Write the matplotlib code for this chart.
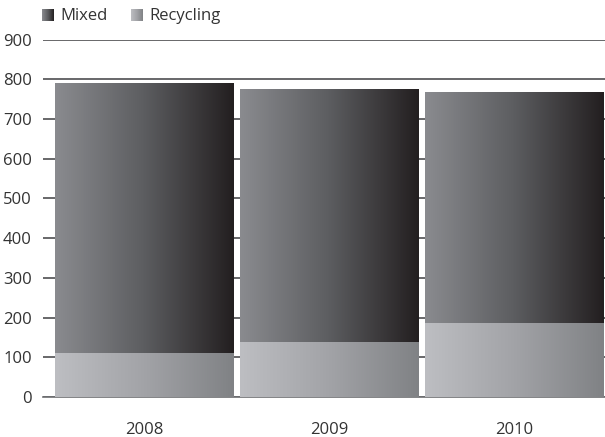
import numpy as np
import matplotlib
matplotlib.use("Agg")
import matplotlib.pyplot as plt
from matplotlib.colors import LinearSegmentedColormap

plt.rcParams['font.family'] = ['Open Sans', 'DejaVu Sans']

# --- DATA ---
years = ['2008', '2009', '2010']
recycling = [110, 138, 187]
mixed = [678, 635, 581]   # stacked on top of recycling

# horizontal gradients for each series
cmap_mixed = LinearSegmentedColormap.from_list('mixed', ['#8a8b8f', '#5c5d60', '#231f20'])
cmap_recyc = LinearSegmentedColormap.from_list('recyc', ['#bdbec2', '#a2a3a7', '#808285'])
grad = np.linspace(0, 1, 256).reshape(1, -1)

fig = plt.figure(figsize=(6.05, 4.37), dpi=100)
ax = fig.add_axes([0.071, 0.0915, 0.929, 0.818])

x = np.arange(len(years))
width = 0.962

def gradient_bar(x0, bottom, height, cmap):
    ax.imshow(grad, cmap=cmap, aspect='auto', zorder=3,
              extent=[x0 - width / 2, x0 + width / 2, bottom, bottom + height])

for i in range(len(years)):
    gradient_bar(x[i], 0, recycling[i], cmap_recyc)
    gradient_bar(x[i], recycling[i], mixed[i], cmap_mixed)

ax.set_xlim(-0.546, 2.49)
ax.set_ylim(0, 900)
ax.set_yticks(range(0, 901, 100))
ax.set_xticks(x)
ax.set_xticklabels(years)
ax.yaxis.grid(True, color='#3f3f41', linewidth=1.1, zorder=0)
ax.set_axisbelow(True)
for s in ['left', 'right', 'top']:
    ax.spines[s].set_visible(False)
ax.spines['bottom'].set_color('#6d6e71')
ax.spines['bottom'].set_linewidth(1.2)
ax.tick_params(axis='y', length=0, pad=8, labelsize=12, labelcolor='#333333')
ax.tick_params(axis='x', length=0, pad=18, labelsize=12, labelcolor='#333333')

# legend with gradient swatches
for lx, cmap, label in [(42, cmap_mixed, 'Mixed'), (131, cmap_recyc, 'Recycling')]:
    sw = fig.add_axes([lx / 605, 1 - 21 / 437, 12 / 605, 12 / 437])
    sw.imshow(grad, cmap=cmap, aspect='auto')
    sw.axis('off')
    fig.text((lx + 18) / 605, 1 - 15.5 / 437, label, fontsize=12, color='#333333', va='center')

fig.savefig('out.png', dpi=100)
